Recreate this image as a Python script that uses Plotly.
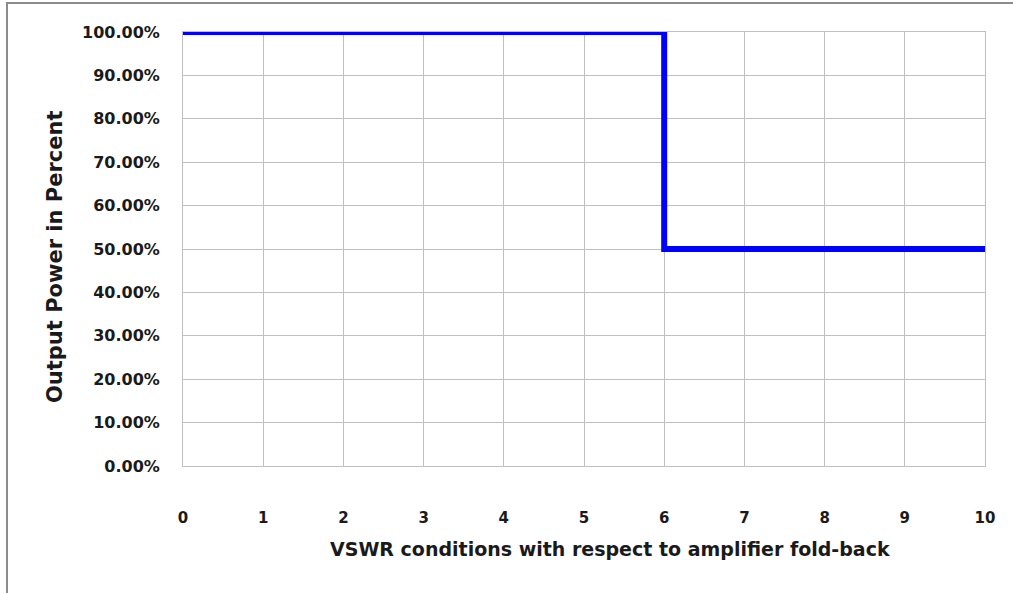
import plotly.graph_objects as go

vswr = [0, 6, 6, 10]
output_power = [1.0, 1.0, 0.5, 0.5]
x_ticks = [0, 1, 2, 3, 4, 5, 6, 7, 8, 9, 10]
y_ticks = [0, 0.1, 0.2, 0.3, 0.4, 0.5, 0.6, 0.7, 0.8, 0.9, 1.0]
x_title = "VSWR conditions with respect to amplifier fold-back"
y_title = "Output Power in Percent"

FONT = "DejaVu Sans"
GRID = "#c0c0c0"
TXT = "#1a1a1a"

L, R, T, B = 183, 28, 32, 127
PW, PH = 1013 - L - R, 593 - T - B

fig = go.Figure()
fig.add_trace(go.Scatter(
    x=vswr, y=output_power, mode="lines",
    line=dict(color="#0000ff", width=6),
    cliponaxis=False, hoverinfo="skip", showlegend=False,
))

fig.update_layout(
    width=1013, height=593,
    margin=dict(l=L, r=R, t=T, b=B),
    paper_bgcolor="white", plot_bgcolor="white",
    font=dict(family=FONT, color=TXT),
    xaxis=dict(
        range=[0, 10], tickvals=x_ticks, ticktext=[str(v) for v in x_ticks],
        showgrid=True, gridcolor=GRID, gridwidth=1,
        showline=True, linecolor=GRID, linewidth=1, mirror=True,
        zeroline=False, ticks="", ticklabelstandoff=38,
        tickfont=dict(family=FONT, size=15, weight="bold", color=TXT),
    ),
    yaxis=dict(
        range=[0, 1], tickvals=y_ticks, tickformat=".2%",
        showgrid=True, gridcolor=GRID, gridwidth=1,
        showline=True, linecolor=GRID, linewidth=1, mirror=True,
        zeroline=False, ticks="", ticklabelstandoff=19,
        tickfont=dict(family=FONT, size=16, weight="bold", color=TXT),
    ),
    annotations=[
        dict(text=x_title, xref="paper", yref="paper",
             x=(610 - L) / PW, y=-(549 - (T + PH)) / PH,
             xanchor="center", yanchor="middle", showarrow=False,
             font=dict(family=FONT, size=19, weight="bold", color=TXT)),
        dict(text=y_title, xref="paper", yref="paper", textangle=-90,
             x=-(L - 55) / PW, y=1 - (257 - T) / PH,
             xanchor="center", yanchor="middle", showarrow=False,
             font=dict(family=FONT, size=21, weight="bold", color=TXT)),
    ],
    shapes=[dict(type="rect", xref="paper", yref="paper",
                 x0=-176/PW, x1=(1013 - L + 5) / PW,
                 y0=-(593 - 466 + 5) / PH, y1=1 + 29/PH,
                 line=dict(color="#8c8c8c", width=2), layer="below")],
)

fig.write_html("out.html", config={"displayModeBar": False},
               post_script="document.body.style.margin='0';")
